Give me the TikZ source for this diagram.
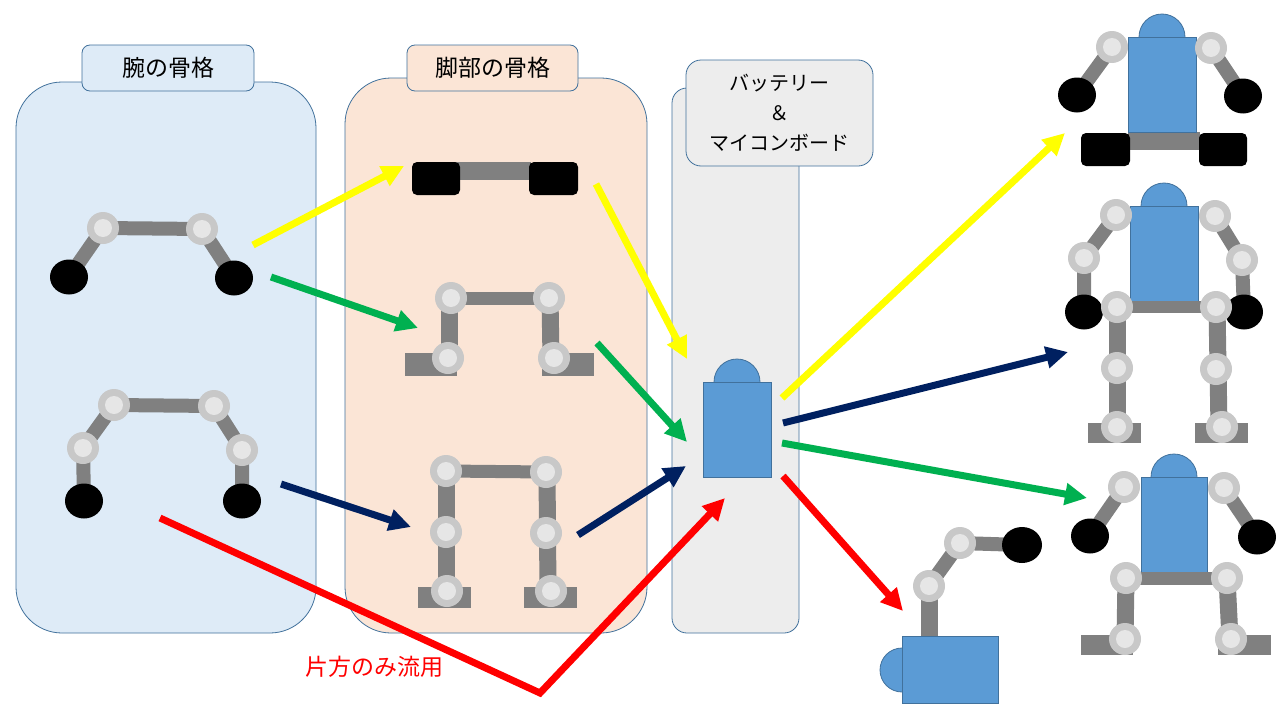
\documentclass[tikz,border=0pt]{standalone}
\usepackage{fontspec}
\setmainfont{Noto Sans CJK JP}
\usetikzlibrary{arrows.meta}
\definecolor{armfill}{HTML}{DEEBF7}
\definecolor{legfill}{HTML}{FBE5D6}
\definecolor{batfill}{HTML}{EDEDED}
\definecolor{border}{HTML}{41719C}
\definecolor{jout}{HTML}{C8C8C8}
\definecolor{jin}{HTML}{E6E6E6}
\definecolor{linkc}{HTML}{808080}
\definecolor{bodyc}{HTML}{5B9BD5}
\definecolor{ayellow}{HTML}{FFFF00}
\definecolor{agreen}{HTML}{00B050}
\definecolor{anavy}{HTML}{002060}
\definecolor{ared}{HTML}{FF0000}
\newcommand\jnt[1]{\fill[jout] #1 circle (16pt); \fill[jin] #1 circle (9pt);}
\newcommand\hand[1]{\fill[black] #1 ellipse (19pt and 17.5pt);}
\begin{document}
\begin{tikzpicture}[x=1pt,y=-1pt,
  panel/.style={draw=border,line width=0.8pt},
  titlebox/.style={draw=border,line width=0.8pt,rounded corners=8pt,inner sep=0pt,
    font=\fontsize{23}{27}\selectfont},
  link/.style={draw=linkc,line width=14pt},
  vlink/.style={draw=linkc,line width=17pt},
  bodyst/.style={fill=bodyc,draw=border,line width=0.8pt},
  blk/.style={fill=black,rounded corners=5pt},
  arr/.style={line width=7pt,-{Triangle[length=22pt,width=21pt]}}]
\useasboundingbox (0,0) rectangle (1280,720);
\fill[white] (0,0) rectangle (1280,720);
% panels
\filldraw[panel,fill=armfill,rounded corners=46pt] (16,82) rectangle (316,633);
\node[titlebox,fill=armfill,minimum width=172pt,minimum height=46pt] (armtitle) at (168,68) {腕の骨格};
\filldraw[panel,fill=legfill,rounded corners=46pt] (345,78) rectangle (647,633);
\node[titlebox,fill=legfill,minimum width=171pt,minimum height=46pt] (legtitle) at (492.5,68) {脚部の骨格};
\filldraw[panel,fill=batfill,rounded corners=15pt] (672,88) rectangle (799,633);
\node[titlebox,fill=batfill,rounded corners=15pt,minimum width=187pt,minimum height=106pt,
  align=center,font=\fontsize{20}{30}\selectfont] (battitle) at (779.5,113) {バッテリー\\＆\\マイコンボード};
% arm 1
\draw[link] (69,277) -- (103,228) -- (202,229) -- (234,278);
\hand{(69,277)} \hand{(234,278)}
\jnt{(103,228)} \jnt{(202,229)}
% arm 2
\draw[link] (84,501) -- (83,448) -- (114,405) -- (214,406) -- (242,450) -- (242,501);
\hand{(84,501)} \hand{(242,501)}
\jnt{(83,448)} \jnt{(114,405)} \jnt{(214,406)} \jnt{(242,450)}
% leg 1 (crawler)
\fill[linkc] (455,162) rectangle (531,180);
\fill[blk] (412,162) rectangle (460,195);
\fill[blk] (529,162) rectangle (578,195);
% leg 2
\fill[linkc] (405,353) rectangle (457,376);
\fill[linkc] (542,353) rectangle (594,376);
\draw[vlink] (449,358) -- (449,298);
\draw[vlink] (551,358) -- (550,298);
\draw[link,line width=13pt] (451,298) -- (549,298);
\jnt{(451,298)} \jnt{(549,298)} \jnt{(448,358)} \jnt{(554,358)}
% leg 3
\fill[linkc] (418,587) rectangle (471,608);
\fill[linkc] (524,587) rectangle (577,608);
\draw[vlink] (446,591) -- (446,471);
\draw[vlink] (548,591) -- (547,472);
\draw[link,line width=13pt] (446,471) -- (546,472);
\jnt{(446,471)} \jnt{(546,472)} \jnt{(446,532)} \jnt{(546,533)} \jnt{(447,591)} \jnt{(551,591)}
% center body
\filldraw[bodyst] (737,382) circle (23pt);
\filldraw[bodyst] (703,382) rectangle (771,477);
% robot 1
\draw[link] (1077,95) -- (1112,47);
\draw[link] (1211,48) -- (1243,96);
\fill[linkc] (1128,132) rectangle (1200,150);
\fill[blk] (1081,133) rectangle (1130,166);
\fill[blk] (1199,133) rectangle (1247,166);
\hand{(1077,95)} \hand{(1243,96)}
\filldraw[bodyst] (1162,37) circle (23pt);
\filldraw[bodyst] (1128,37) rectangle (1196,132);
\jnt{(1112,47)} \jnt{(1211,48)}
% robot 2
\draw[link] (1084,312) -- (1084,258) -- (1116,215);
\draw[link] (1215,216) -- (1242,260) -- (1244,312);
\fill[linkc] (1088,423) rectangle (1141,443);
\fill[linkc] (1195,423) rectangle (1248,443);
\draw[vlink] (1117,307) -- (1117,427);
\draw[vlink] (1217,307) -- (1219,427);
\hand{(1084,312)} \hand{(1244,312)}
\filldraw[bodyst] (1164,206) circle (23pt);
\filldraw[bodyst] (1130,206) rectangle (1198,302);
\draw[link,line width=12pt] (1117,307) -- (1216,307);
\jnt{(1116,215)} \jnt{(1215,216)} \jnt{(1084,258)} \jnt{(1242,260)}
\jnt{(1117,307)} \jnt{(1216,307)} \jnt{(1117,368)} \jnt{(1216,369)} \jnt{(1117,427)} \jnt{(1222,427)}
% robot 3
\draw[link] (1090,536) -- (1124,487);
\draw[link] (1224,488) -- (1257,537);
\fill[linkc] (1081,635) rectangle (1133,655);
\fill[linkc] (1218,635) rectangle (1271,655);
\draw[vlink] (1126,578) -- (1125,639);
\draw[vlink] (1227,578) -- (1230,639);
\hand{(1090,536)} \hand{(1257,537)}
\filldraw[bodyst] (1174,477) circle (23pt);
\filldraw[bodyst] (1141,477) rectangle (1207,572);
\draw[link,line width=13pt] (1126,578) -- (1227,578);
\jnt{(1124,487)} \jnt{(1224,488)} \jnt{(1126,578)} \jnt{(1227,578)} \jnt{(1125,639)} \jnt{(1231,639)}
% robot 4
\draw[vlink] (929,636) -- (929,586);
\draw[link] (929,586) -- (960,543) -- (1022,545);
\fill[black] (1022,545) ellipse (20pt and 18pt);
\filldraw[bodyst] (902,670) circle (22pt);
\filldraw[bodyst] (902,636) rectangle (998,703);
\jnt{(929,586)} \jnt{(960,543)}
% arrow coordinates
\coordinate (y1s) at (253,245); \coordinate (y1e) at (404,166);
\coordinate (g1s) at (271,277); \coordinate (g1e) at (418,328);
\coordinate (y2s) at (596,184); \coordinate (y2e) at (687,359);
\coordinate (g2s) at (597,343); \coordinate (g2e) at (687,442);
\coordinate (n1s) at (281,484); \coordinate (n1e) at (411,527);
\coordinate (n2s) at (578,535); \coordinate (n2e) at (686,466);
\coordinate (r1s) at (160,518); \coordinate (r1m) at (540,693); \coordinate (r1e) at (725,498);
\coordinate (y3s) at (782,398); \coordinate (y3e) at (1065,133);
\coordinate (n3s) at (783,423); \coordinate (n3e) at (1068,352);
\coordinate (g3s) at (782,443); \coordinate (g3e) at (1087,498);
\coordinate (r2s) at (783,476); \coordinate (r2e) at (903,611);
% arrows
\draw[arr,ayellow] (y1s) -- (y1e);
\draw[arr,agreen] (g1s) -- (g1e);
\draw[arr,ayellow] (y2s) -- (y2e);
\draw[arr,agreen] (g2s) -- (g2e);
\draw[arr,anavy] (n1s) -- (n1e);
\draw[arr,anavy] (n2s) -- (n2e);
\draw[arr,ared,line join=miter] (r1s) -- (r1m) -- (r1e);
\draw[arr,ayellow] (y3s) -- (y3e);
\draw[arr,anavy] (n3s) -- (n3e);
\draw[arr,agreen] (g3s) -- (g3e);
\draw[arr,ared] (r2s) -- (r2e);
% label
\node[text=ared,font=\fontsize{23}{27}\selectfont,inner sep=0pt] (redlabel) at (374,667) {片方のみ流用};
\end{tikzpicture}
\end{document}
